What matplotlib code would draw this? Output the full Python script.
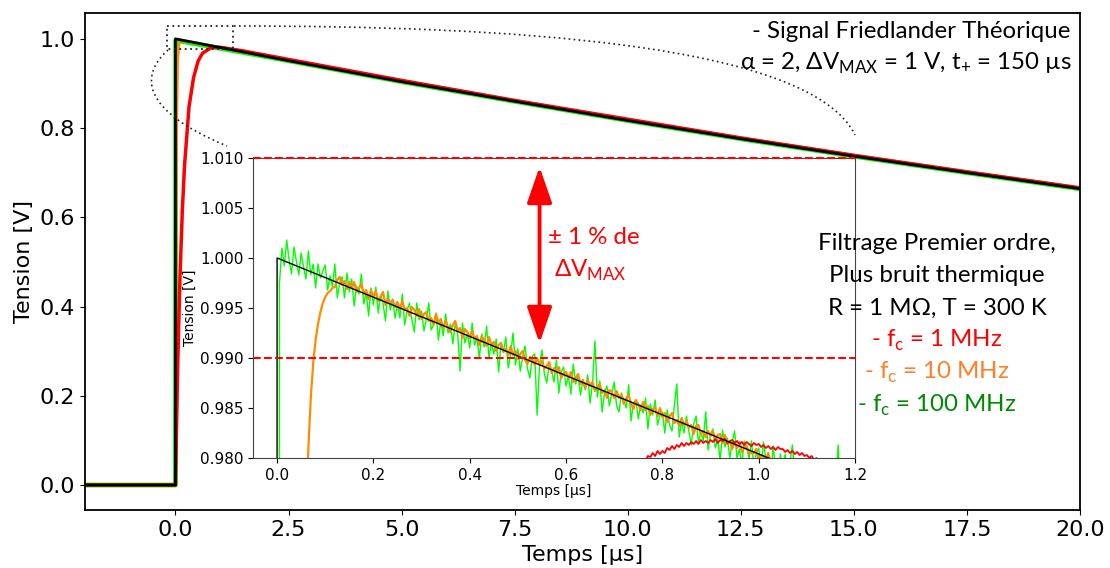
import numpy as np
import matplotlib
matplotlib.use('Agg')
import matplotlib.pyplot as plt
from matplotlib.path import Path
from matplotlib.patches import PathPatch, FancyArrowPatch

plt.rcParams['font.family'] = ['DejaVu Sans']
plt.rcParams['mathtext.fontset'] = 'custom'
plt.rcParams['mathtext.rm'] = 'Lato'

# ---- courbes de la vue principale (temps en us, tension en V)
t_th = [-2, 0, 0, 2.5, 5, 7.5, 10, 12.5, 15, 17.5, 20]
v_th = [0, 0, 1.0, 0.951, 0.904, 0.860, 0.817, 0.776, 0.737, 0.700, 0.664]

t_g = [-2, 0, 0.005, 2.5, 5, 7.5, 10, 12.5, 15, 17.5, 20]
v_g = [0, 0, 0.997, 0.951, 0.904, 0.860, 0.817, 0.776, 0.737, 0.700, 0.664]

t_o = [-2, 0, 0.01, 0.02, 0.03, 0.05, 0.08, 0.12, 2.5, 5, 7.5, 10, 12.5, 15, 17.5, 20]
v_o = [0, 0, 0.46, 0.71, 0.85, 0.955, 0.99, 0.997, 0.951, 0.904, 0.860, 0.817, 0.776, 0.737, 0.700, 0.664]

t_r = [-2, 0, 0.05, 0.1, 0.15, 0.2, 0.3, 0.4, 0.5, 0.6, 0.8, 1.0, 1.5, 2.5, 5, 7.5, 10, 12.5, 15, 17.5, 20]
v_r = [0, 0, 0.27, 0.466, 0.61, 0.715, 0.848, 0.913, 0.95, 0.968, 0.981, 0.981, 0.973, 0.954, 0.907, 0.862, 0.820, 0.778, 0.739, 0.702, 0.666]

# ---- zoom : echantillons tous les 5 ns, tension - 1 V en mV
dt_ins = 0.005
green_mv = [-1000, -2.5, 1.0, -0.8, 1.8, -0.2, -1.6, 1.1, -0.3, -1.7,
            0.5, -0.9, -2.1, 0.7, -1.7, -0.6, -3.0, -0.6, -2.0, -1.3,
            -0.7, -3.2, -1.8, -2.9, -0.6, -4.0, -2.5, -1.9, -4.0, -1.5,
            -3.4, -2.1, -4.8, -2.8, -3.6, -1.6, -4.6, -3.4, -5.8, -3.0,
            -4.7, -2.9, -5.5, -3.7, -4.5, -6.3, -3.3, -5.2, -4.1, -6.0,
            -4.6, -6.0, -3.6, -6.7, -5.2, -4.5, -6.2, -7.4, -4.5, -6.2,
            -5.3, -7.3, -6.1, -4.5, -7.2, -6.7, -5.5, -8.2, -6.3, -7.8,
            -5.6, -7.5, -6.6, -8.6, -6.5, -7.6, -11.3, -6.5, -8.5, -7.6,
            -9.0, -6.5, -8.7, -8.0, -10.0, -7.6, -8.9, -6.8, -10.0, -8.5,
            -9.6, -8.1, -11.4, -8.5, -9.4, -7.9, -11.0, -9.6, -7.5, -10.7,
            -9.1, -11.3, -9.9, -8.8, -11.1, -12.0, -9.8, -9.6, -15.7, -10.7,
            -9.2, -11.6, -12.5, -10.6, -11.3, -12.4, -10.2, -13.5, -11.4, -10.9,
            -12.8, -11.8, -13.6, -10.6, -12.6, -11.7, -13.7, -12.2, -13.2, -11.7,
            -14.5, -12.5, -8.3, -13.9, -12.3, -15.4, -13.4, -12.8, -14.8, -13.5,
            -12.4, -14.8, -15.4, -13.5, -14.3, -15.0, -12.7, -16.3, -14.5, -14.2,
            -16.1, -14.7, -15.5, -14.0, -17.1, -14.6, -15.7, -14.2, -16.7, -15.7,
            -15.4, -17.5, -15.2, -16.7, -17.3, -14.7, -12.6, -17.9, -16.3, -17.5,
            -15.8, -17.3, -18.7, -16.6, -15.8, -18.5, -17.3, -18.3, -15.4, -19.2,
            -17.6, -17.1, -19.0, -18.1, -20.3, -17.2, -18.9, -18.0, -20.0, -18.4,
            -17.3, -20.0, -19.1, -20.7, -18.3, -18.9, -20.1, -18.3, -20.8, -19.6,
            -19.0, -20.8, -18.4, -20.3, -19.6, -22.0, -18.8, -20.9, -21.8, -19.6,
            -21.4, -19.6, -22.2, -20.4, -18.7, -21.6, -20.7, -23.0, -20.2, -21.7,
            -20.1, -22.9, -21.7, -20.2, -23.6, -22.1, -20.9, -23.0, -22.0, -23.9,
            -21.9, -23.6, -22.6, -18.7, -24.3, -23.2, -22.4, -25.3, -23.1, -24.1,
            -23.1]

orange_mv = [-1000, -732, -535, -392, -287, -210, -154, -113, -83, -61,
             -45, -33.5, -25, -19, -14, -10.5, -8.2, -6.6, -5.4, -4.5,
             -3.9, -3.5, -3.3, -3.0, -2.9, -2.2, -1.9, -2.7, -2.3, -3.1,
             -2.4, -3.0, -2.4, -3.4, -3.0, -2.6, -3.6, -3.2, -4.1, -3.2,
             -3.9, -3.3, -4.3, -3.9, -3.4, -4.7, -4.1, -4.5, -4.2, -4.9,
             -4.4, -5.2, -4.3, -5.2, -5.0, -5.8, -4.9, -5.2, -5.8, -5.1,
             -6.1, -5.6, -5.4, -6.3, -6.0, -6.7, -5.6, -6.5, -6.1, -7.0,
             -6.3, -6.9, -7.4, -6.7, -6.3, -7.3, -7.0, -8.0, -7.1, -7.4,
             -8.0, -7.3, -8.1, -7.8, -8.7, -7.8, -8.2, -8.8, -7.9, -8.7,
             -8.4, -9.3, -8.7, -8.5, -9.4, -9.1, -9.7, -8.8, -9.7, -9.3,
             -10.1, -9.6, -9.3, -10.2, -10.6, -9.9, -10.2, -10.7, -10.0, -10.7,
             -10.3, -11.1, -10.8, -10.4, -11.5, -11.0, -11.5, -10.9, -12.0, -11.5,
             -11.4, -12.0, -11.4, -12.4, -12.0, -11.6, -12.6, -12.2, -13.0, -12.2,
             -12.8, -12.4, -13.3, -12.8, -12.6, -13.5, -13.2, -14.0, -13.2, -13.4,
             -14.0, -13.3, -14.0, -13.7, -14.6, -14.0, -13.7, -14.6, -15.1, -14.2,
             -14.6, -15.2, -14.4, -15.2, -14.8, -15.7, -15.1, -15.0, -15.8, -15.0,
             -15.9, -15.5, -16.4, -15.8, -15.5, -16.5, -16.2, -16.8, -16.0, -16.7,
             -16.3, -17.0, -16.7, -17.6, -16.8, -16.7, -17.6, -17.3, -17.9, -17.3,
             -17.8, -17.3, -18.2, -17.7, -17.6, -18.5, -17.7, -18.6, -18.4, -19.1,
             -18.4, -19.0, -18.4, -19.4, -19.0, -18.8, -19.6, -19.5, -19.5, -19.1,
             -20.1, -19.7, -19.8, -20.2, -19.5, -20.5, -20.1, -20.9, -20.1, -20.5,
             -20.2, -21.0, -20.6, -21.4, -20.9, -20.6, -21.6, -21.3, -22.0, -21.3,
             -21.8, -21.6, -22.3, -22.1, -22.5, -22.4, -22.9, -22.7, -23.2, -23.0,
             -23.4, -23.1, -23.8, -23.6, -24.0, -23.9, -24.3, -24.1, -24.6, -24.4,
             -24.8]

# rouge (1 MHz) seulement a partir de 0.75 us
red_start = 150
red_mv = [-20.7, -20.8, -20.2, -20.3, -19.8, -19.9, -19.5, -19.8, -19.3, -19.6,
          -19.3, -19.5, -19.0, -19.2, -18.8, -19.1, -18.7, -18.9, -18.5, -18.8,
          -18.5, -18.7, -18.4, -18.6, -18.3, -18.6, -18.2, -18.5, -18.3, -18.5,
          -18.2, -18.4, -18.1, -18.5, -18.2, -18.3, -18.1, -18.5, -18.3, -18.2,
          -18.5, -18.3, -18.6, -18.4, -18.7, -18.4, -18.6, -18.8, -18.5, -18.7,
          -18.6, -18.9, -18.7, -19.0, -18.8, -19.1, -18.9, -19.2, -18.9, -19.1,
          -19.1, -19.4, -19.2, -19.5, -19.3, -19.6, -19.4, -19.7, -19.5, -19.8,
          -19.7, -20.0, -19.8, -20.2, -20.0, -20.3, -20.1, -20.5, -20.3, -20.6,
          -20.5, -20.8, -20.6, -20.9, -21.0, -20.9, -21.2, -21.1, -21.3, -21.4,
          -21.5]

C_GREEN = '#00ff00'
C_ORANGE = '#ff8c00'
C_RED = '#ff0000'

fig = plt.figure(figsize=(11.1, 5.68), dpi=100)

# ---------------- vue principale
ax = fig.add_axes([85/1110, 1-510/568, 995/1110, 497/568])
ax.plot(t_g, v_g, color=C_GREEN, lw=3.5)
ax.plot(t_o, v_o, color=C_ORANGE, lw=2)
ax.plot(t_r, v_r, color=C_RED, lw=2.5)
ax.plot(t_th, v_th, color='black', lw=2)
ax.set_xlim(-2, 20)
ax.set_ylim(-0.056, 1.058)
ax.set_xticks(np.arange(0, 20.1, 2.5))
ax.set_yticks(np.arange(0, 1.01, 0.2))
ax.tick_params(labelsize=16)
ax.set_xlabel('Temps [µs]', fontsize=16)
ax.set_ylabel('Tension [V]', fontsize=16)
for s in ax.spines.values():
    s.set_linewidth(1.3)

# rectangle de zoom
zx = [-0.18, 1.28, 1.28, -0.18, -0.18]
zy = [1.029, 1.029, 0.978, 0.978, 1.029]
ax.plot(zx, zy, color='#222222', lw=1.3, ls=(0, (1, 2)), clip_on=False)

# ---------------- encart
t_ins = np.arange(len(green_mv)) * dt_ins
ins = fig.add_axes([253/1110, 1-458/568, 602/1110, 300/568])
ins.plot(t_ins, 1 + np.array(green_mv)/1000, color=C_GREEN, lw=1)
ins.plot(t_ins, 1 + np.array(orange_mv)/1000, color=C_ORANGE, lw=1.6)
ins.plot(t_ins[red_start:], 1 + np.array(red_mv)/1000, color=C_RED, lw=1.3)
ins.plot(t_th, v_th, color='black', lw=1)
ins.axhline(1.01, color=C_RED, ls='--', lw=1.5, clip_on=False, zorder=3)
ins.axhline(0.99, color=C_RED, ls='--', lw=1.5)
ins.set_xlim(-0.05, 1.2)
ins.set_ylim(0.98, 1.01)
ins.set_xticks(np.arange(0, 1.21, 0.2))
ins.set_yticks(np.arange(0.98, 1.0101, 0.005))
ins.tick_params(labelsize=11)
ins.set_xlabel('Temps [µs]', fontsize=10, labelpad=1)
ins.set_ylabel('Tension [V]', fontsize=10, labelpad=2)
for s in ins.spines.values():
    s.set_color('#444444')

arr = FancyArrowPatch((0.545, 0.9912), (0.545, 1.0094),
                      arrowstyle='<|-|>,head_length=1.1,head_width=0.38',
                      mutation_scale=20, color=C_RED, lw=2.8)
ins.add_patch(arr)

# ---------------- textes et liaisons (coordonnees pixel)
ov = fig.add_axes([0, 0, 1, 1], zorder=10)
ov.set_xlim(0, 1110)
ov.set_ylim(568, 0)
ov.axis('off')

left_curve = Path([(168, 50), (140, 75), (140, 110), (227, 146)],
                  [Path.MOVETO, Path.CURVE4, Path.CURVE4, Path.CURVE4])
right_curve = Path([(234, 26), (500, 26), (810, 42), (855, 135)],
                   [Path.MOVETO, Path.CURVE4, Path.CURVE4, Path.CURVE4])
for p in (left_curve, right_curve):
    ov.add_patch(PathPatch(p, fill=False, color='#222222', lw=1.2, ls=(0, (1, 2))))

fnt = ['Lato', 'DejaVu Sans']
fs = 17.3
ov.text(1070, 31, '- Signal Friedlander Théorique', ha='right', va='center',
        fontsize=fs, family=fnt)
ov.text(1072, 63, r'α = 2, ΔV$_\mathrm{MAX}$ = 1 V, t$_\mathrm{+}$ = 150 µs',
        ha='right', va='center', fontsize=fs, family=fnt)

ov.text(594, 237, '± 1 % de', ha='center', va='center', fontsize=fs,
        family=fnt, color=C_RED)
ov.text(590, 270, r'ΔV$_\mathrm{MAX}$', ha='center', va='center', fontsize=fs,
        family=fnt, color=C_RED)

cx = 937
ov.text(cx, 243, 'Filtrage Premier ordre,', ha='center', va='center', fontsize=fs, family=fnt)
ov.text(cx, 275, 'Plus bruit thermique', ha='center', va='center', fontsize=fs, family=fnt)
ov.text(cx, 308, 'R = 1 MΩ, T = 300 K', ha='center', va='center', fontsize=fs, family=fnt)
ov.text(cx, 340, r'- f$_\mathrm{c}$ = 1 MHz', ha='center', va='center', fontsize=fs,
        family=fnt, color=C_RED)
ov.text(cx, 372, r'- f$_\mathrm{c}$ = 10 MHz', ha='center', va='center', fontsize=fs,
        family=fnt, color='#ff7f27')
ov.text(cx, 405, r'- f$_\mathrm{c}$ = 100 MHz', ha='center', va='center', fontsize=fs,
        family=fnt, color='#008a00')

fig.savefig('out.png', dpi=100)
